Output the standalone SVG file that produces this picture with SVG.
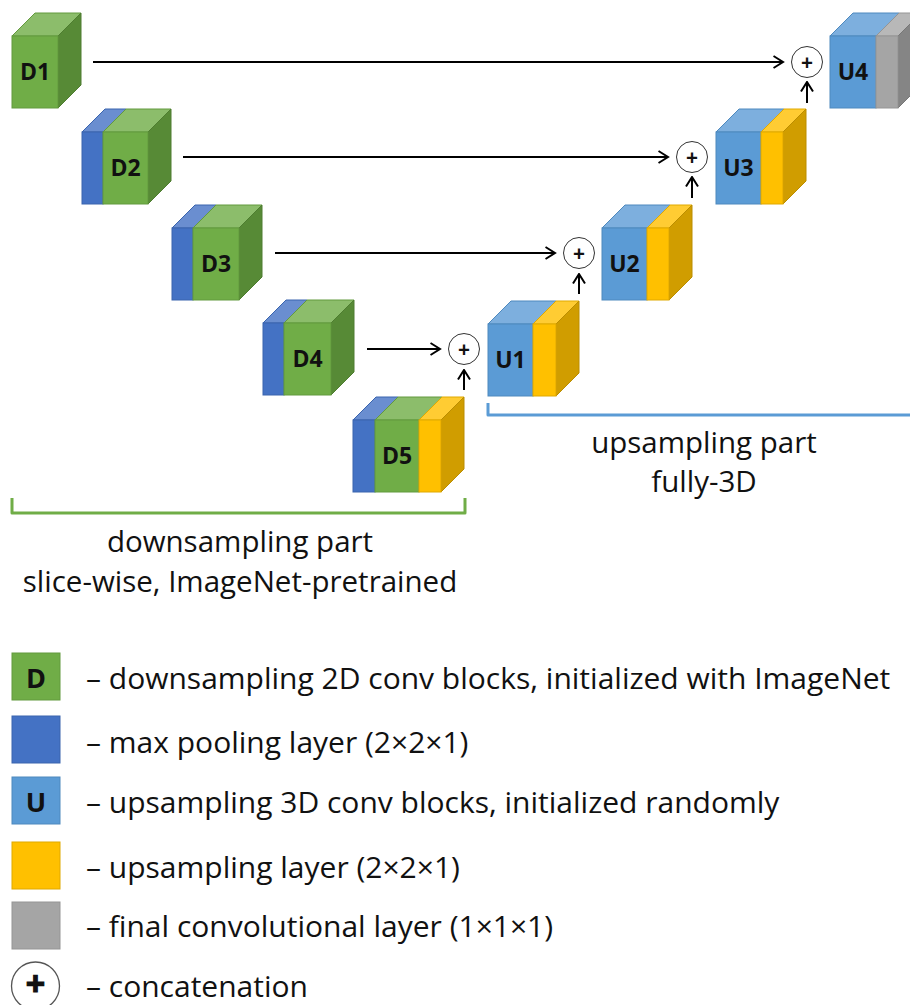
<svg xmlns="http://www.w3.org/2000/svg" width="910" height="1005" viewBox="0 0 910 1005">
<defs>
<style>
.gF{fill:#70AD47;stroke:#639A3E;stroke-width:1}
.gT{fill:#8CBD6B;stroke:#639A3E;stroke-width:1}
.gS{fill:#578A36;stroke:#4E7D30;stroke-width:1}
.bF{fill:#4472C4;stroke:#3A64AE;stroke-width:1}
.bT{fill:#6A8ED0;stroke:#3A64AE;stroke-width:1}
.uF{fill:#5B9BD5;stroke:#4E89BE;stroke-width:1}
.uT{fill:#7DAFDE;stroke:#4E89BE;stroke-width:1}
.yF{fill:#FFC000;stroke:#E0A900;stroke-width:1}
.yT{fill:#FFCC33;stroke:#E0A900;stroke-width:1}
.yS{fill:#D09D00;stroke:#BB8D00;stroke-width:1}
.kF{fill:#A5A5A5;stroke:#959595;stroke-width:1}
.kT{fill:#B8B8B8;stroke:#959595;stroke-width:1}
.kS{fill:#858585;stroke:#777777;stroke-width:1}
.lbl{font-family:"Open Sans","Liberation Sans",sans-serif;font-weight:bold;font-size:23px;fill:#111;text-anchor:middle}
.txt{font-family:"Open Sans","Liberation Sans",sans-serif;font-size:29.5px;fill:#111}
.leg{font-family:"Open Sans","Liberation Sans",sans-serif;font-size:30px;fill:#111}
.mid{text-anchor:middle}
.plus{font-family:"Open Sans","Liberation Sans",sans-serif;font-weight:bold;font-size:21px;fill:#111;text-anchor:middle}
.circ{fill:#fff;stroke:#333;stroke-width:1}
.arr{stroke:#000;stroke-width:2;fill:none;marker-end:url(#ah)}
</style>
<marker id="ah" viewBox="0 0 12 14" refX="10.5" refY="7" markerWidth="12" markerHeight="14" markerUnits="userSpaceOnUse" orient="auto">
<path d="M1,1 L10.5,7 L1,13" fill="none" stroke="#000" stroke-width="2"/>
</marker>
</defs>
<rect width="910" height="1005" fill="#fff"/>

<g id="D1">
<polygon class="gT" points="12,36 35,13 81,13 58,36"/>
<polygon class="gS" points="58,36 81,13 81,85 58,108"/>
<rect class="gF" x="12" y="36" width="46" height="72"/>
<text class="lbl" x="35" y="80">D1</text>
</g>

<g id="D2">
<polygon class="bT" points="82,132 105,109 126,109 103,132"/>
<polygon class="gT" points="103,132 126,109 171,109 148,132"/>
<polygon class="gS" points="148,132 171,109 171,181 148,204"/>
<rect class="bF" x="82" y="132" width="21" height="72"/>
<rect class="gF" x="103" y="132" width="45" height="72"/>
<text class="lbl" x="125.5" y="176">D2</text>
</g>

<g id="D3">
<polygon class="bT" points="172,228 195,205 216,205 193,228"/>
<polygon class="gT" points="193,228 216,205 262,205 239,228"/>
<polygon class="gS" points="239,228 262,205 262,277 239,300"/>
<rect class="bF" x="172" y="228" width="21" height="72"/>
<rect class="gF" x="193" y="228" width="46" height="72"/>
<text class="lbl" x="216" y="272">D3</text>
</g>

<g id="D4">
<polygon class="bT" points="263,323 286,300 307,300 284,323"/>
<polygon class="gT" points="284,323 307,300 354,300 331,323"/>
<polygon class="gS" points="331,323 354,300 354,372 331,395"/>
<rect class="bF" x="263" y="323" width="21" height="72"/>
<rect class="gF" x="284" y="323" width="47" height="72"/>
<text class="lbl" x="307.5" y="367">D4</text>
</g>

<g id="D5">
<polygon class="bT" points="353,420 376,397 398,397 375,420"/>
<polygon class="gT" points="375,420 398,397 442,397 419,420"/>
<polygon class="yT" points="419,420 442,397 464,397 441,420"/>
<polygon class="yS" points="441,420 464,397 464,469 441,492"/>
<rect class="bF" x="353" y="420" width="22" height="72"/>
<rect class="gF" x="375" y="420" width="44" height="72"/>
<rect class="yF" x="419" y="420" width="22" height="72"/>
<text class="lbl" x="397" y="464">D5</text>
</g>

<g id="U1">
<polygon class="uT" points="488,324 511,301 556,301 533,324"/>
<polygon class="yT" points="533,324 556,301 579,301 556,324"/>
<polygon class="yS" points="556,324 579,301 579,373 556,396"/>
<rect class="uF" x="488" y="324" width="45" height="72"/>
<rect class="yF" x="533" y="324" width="23" height="72"/>
<text class="lbl" x="510.5" y="368">U1</text>
</g>

<g id="U2">
<polygon class="uT" points="602,228 625,205 670,205 647,228"/>
<polygon class="yT" points="647,228 670,205 692,205 669,228"/>
<polygon class="yS" points="669,228 692,205 692,277 669,300"/>
<rect class="uF" x="602" y="228" width="45" height="72"/>
<rect class="yF" x="647" y="228" width="22" height="72"/>
<text class="lbl" x="624.5" y="272">U2</text>
</g>

<g id="U3">
<polygon class="uT" points="716,132 739,109 784,109 761,132"/>
<polygon class="yT" points="761,132 784,109 806,109 783,132"/>
<polygon class="yS" points="783,132 806,109 806,181 783,204"/>
<rect class="uF" x="716" y="132" width="45" height="72"/>
<rect class="yF" x="761" y="132" width="22" height="72"/>
<text class="lbl" x="738.5" y="176">U3</text>
</g>

<g id="U4">
<polygon class="uT" points="830,36 853,13 899,13 876,36"/>
<polygon class="kT" points="876,36 899,13 921,13 898,36"/>
<polygon class="kS" points="898,36 921,13 921,85 898,108"/>
<rect class="uF" x="830" y="36" width="46" height="72"/>
<rect class="kF" x="876" y="36" width="22" height="72"/>
<text class="lbl" x="853" y="80">U4</text>
</g>

<g id="C1"><circle class="circ" cx="464" cy="349" r="15.5"/><text class="plus" x="464" y="356.5">+</text></g>
<g id="C2"><circle class="circ" cx="579" cy="253" r="15.5"/><text class="plus" x="579" y="260.5">+</text></g>
<g id="C3"><circle class="circ" cx="692" cy="157" r="15.5"/><text class="plus" x="692" y="164.5">+</text></g>
<g id="C4"><circle class="circ" cx="807" cy="62" r="15.5"/><text class="plus" x="807" y="69.5">+</text></g>

<g id="connectors">
<line class="arr" x1="93" y1="62" x2="783" y2="62"/>
<line class="arr" x1="183" y1="157" x2="668" y2="157"/>
<line class="arr" x1="275" y1="253" x2="555" y2="253"/>
<line class="arr" x1="367" y1="349" x2="440" y2="349"/>
<line class="arr" x1="464" y1="390" x2="464" y2="370"/>
<line class="arr" x1="579" y1="294" x2="579" y2="274"/>
<line class="arr" x1="692" y1="198" x2="692" y2="177"/>
<line class="arr" x1="807" y1="103" x2="807" y2="82"/>
</g>

<g id="brackets">
<path d="M12,498 V513 H465 V498" fill="none" stroke="#70AD47" stroke-width="3" stroke-linejoin="round"/>
<path d="M488,403 V415 H912" fill="none" stroke="#5B9BD5" stroke-width="3" stroke-linejoin="round"/>
</g>

<g id="captions">
<text class="txt mid" x="240" y="552">downsampling part</text>
<text class="txt mid" x="240" y="592">slice-wise, ImageNet-pretrained</text>
<text class="txt mid" x="704" y="453">upsampling part</text>
<text class="txt mid" x="704" y="492">fully-3D</text>
</g>

<g id="legend">
<rect class="gF" x="12" y="653" width="48" height="47"/>
<text class="lbl" x="36" y="688" style="font-size:27px">D</text>
<text class="leg" x="86" y="689">– downsampling 2D conv blocks, initialized with ImageNet</text>
<rect class="bF" x="12" y="716" width="48" height="47"/>
<text class="leg" x="86" y="753">– max pooling layer (2×2×1)</text>
<rect class="uF" x="12" y="777" width="48" height="47"/>
<text class="lbl" x="36" y="812" style="font-size:27px">U</text>
<text class="leg" x="86" y="813">– upsampling 3D conv blocks, initialized randomly</text>
<rect class="yF" x="12" y="842" width="48" height="47"/>
<text class="leg" x="86" y="878">– upsampling layer (2×2×1)</text>
<rect class="kF" x="12" y="902" width="48" height="47"/>
<text class="leg" x="86" y="937">– final convolutional layer (1×1×1)</text>
<circle class="circ" cx="35.5" cy="986" r="24" style="stroke:#555;stroke-width:1.3"/>
<text class="plus" x="35.5" y="996" style="font-size:34px;stroke:#111;stroke-width:1.2">+</text>
<text class="leg" x="86" y="997">– concatenation</text>
</g>
</svg>
